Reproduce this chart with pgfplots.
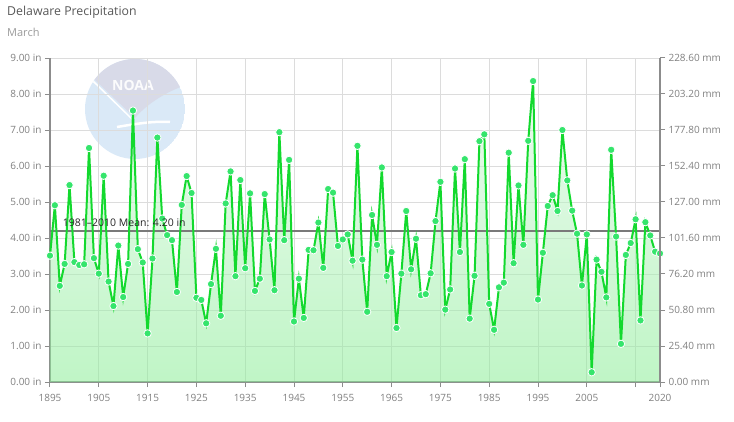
\documentclass[border=0pt]{standalone}
\usepackage{pgfplots}
\pgfplotsset{compat=1.18}
\usepackage{fontspec}
\setmainfont{Open Sans}
\definecolor{lbl}{HTML}{808080}
\definecolor{axisgray}{HTML}{8C8C8C}
\definecolor{gridgray}{HTML}{DCDCDC}
\definecolor{linegreen}{HTML}{13D92E}
\definecolor{markgreen}{HTML}{35E56C}
\definecolor{filltop}{HTML}{DCF8E2}
\definecolor{fillbot}{HTML}{8BED97}
\definecolor{meangray}{HTML}{7A7A7A}
\definecolor{logoblue}{HTML}{DAE9F7}
\definecolor{logogray}{HTML}{D8DAE8}
\definecolor{titlegray}{HTML}{585858}
\definecolor{subgray}{HTML}{9A9A9A}
\pgfplotstableread{
year val
1895 3.51
1896 4.91
1897 2.67
1898 3.28
1899 5.47
1900 3.33
1901 3.25
1902 3.27
1903 6.50
1904 3.44
1905 3.01
1906 5.73
1907 2.79
1908 2.11
1909 3.79
1910 2.36
1911 3.28
1912 7.54
1913 3.69
1914 3.32
1915 1.35
1916 3.43
1917 6.79
1918 4.54
1919 4.08
1920 3.94
1921 2.50
1922 4.92
1923 5.72
1924 5.25
1925 2.34
1926 2.28
1927 1.63
1928 2.72
1929 3.70
1930 1.84
1931 4.96
1932 5.85
1933 2.94
1934 5.61
1935 3.16
1936 5.24
1937 2.53
1938 2.87
1939 5.22
1940 3.96
1941 2.55
1942 6.94
1943 3.94
1944 6.17
1945 1.68
1946 2.87
1947 1.78
1948 3.67
1949 3.66
1950 4.43
1951 3.17
1952 5.36
1953 5.26
1954 3.78
1955 3.96
1956 4.10
1957 3.37
1958 6.56
1959 3.40
1960 1.95
1961 4.64
1962 3.81
1963 5.96
1964 2.94
1965 3.61
1966 1.50
1967 3.01
1968 4.75
1969 3.13
1970 3.98
1971 2.41
1972 2.44
1973 3.02
1974 4.47
1975 5.56
1976 2.01
1977 2.57
1978 5.93
1979 3.61
1980 6.19
1981 1.76
1982 2.95
1983 6.69
1984 6.88
1985 2.17
1986 1.45
1987 2.63
1988 2.76
1989 6.37
1990 3.30
1991 5.46
1992 3.81
1993 6.70
1994 8.36
1995 2.29
1996 3.59
1997 4.89
1998 5.19
1999 4.75
2000 7.00
2001 5.60
2002 4.76
2003 4.12
2004 2.68
2005 4.10
2006 0.27
2007 3.40
2008 3.06
2009 2.35
2010 6.45
2011 4.04
2012 1.06
2013 3.53
2014 3.86
2015 4.52
2016 1.71
2017 4.44
2018 4.07
2019 3.62
2020 3.57
}\precip
\begin{document}
\begin{tikzpicture}[x=1pt,y=1pt]
\useasboundingbox (0,0) rectangle (734,421);
% NOAA watermark
\begin{scope}
\clip (135,312) circle (50);
\fill[logoblue] (135,312) circle (50);
\fill[logogray] (80,363) -- (190,363) -- (190,336) -- (183,335) .. controls (165,328) and (148,318) .. (135,303) -- (95,341) -- (80,341) -- cycle;
\draw[white, line width=1.5pt] (80,339) -- (94,339) -- (133,301);
\draw[white, line width=2.5pt] (117,294) .. controls (135,297) and (152,300) .. (170,299);
\end{scope}
\node[text=white, font=\bfseries\fontsize{14}{14}\selectfont, opacity=0.9] at (133,336) {NOAA};
% titles
\node[anchor=west, inner sep=0pt, text=titlegray, font=\fontsize{12.3}{14}\selectfont] at (7,409) {Delaware Precipitation};
\node[anchor=west, inner sep=0pt, text=subgray, font=\fontsize{11}{13}\selectfont] at (7,389) {March};
\begin{axis}[
  at={(50pt,39pt)}, anchor=south west, scale only axis,
  width=610pt, height=324pt,
  xmin=1895, xmax=2020, ymin=0, ymax=9,
  axis x line=bottom, axis y line=left,
  axis line style={-, draw=axisgray, line width=1.3pt},
  xtick={1895,1905,1915,1925,1935,1945,1955,1965,1975,1985,1995,2005,2015,2020},
  xticklabels={1895,1905,1915,1925,1935,1945,1955,1965,1975,1985,1995,2005,,2020},
  ytick={0,1,2,3,4,5,6,7,8,9},
  yticklabels={0.00 in,1.00 in,2.00 in,3.00 in,4.00 in,5.00 in,6.00 in,7.00 in,8.00 in,9.00 in},
  tick align=outside, major tick length=5pt,
  tick style={draw=axisgray, line width=1pt},
  grid=major, major grid style={draw=gridgray, line width=0.9pt},
  ticklabel style={font=\fontsize{10}{12}\selectfont, text=lbl},
  xticklabel style={yshift=-4pt},
  clip=false,
]
\addplot[draw=none, fill opacity=0.55, top color=filltop, bottom color=fillbot] table[x=year,y=val] {\precip} \closedcycle;
\addplot[draw=meangray, line width=1.8pt] coordinates {(1895,4.2) (2020,4.2)};
\addplot[draw=linegreen, line width=2pt, mark=*, mark size=3.7pt, mark options={fill=markgreen, draw=white, line width=0.8pt}] table[x=year,y=val] {\precip};
\end{axis}
\begin{axis}[
  at={(50pt,39pt)}, anchor=south west, scale only axis,
  width=610pt, height=324pt,
  xmin=1895, xmax=2020, ymin=0, ymax=228.6,
  hide x axis, axis y line*=right,
  axis line style={-, draw=axisgray, line width=1.3pt},
  ytick={0,25.4,50.8,76.2,101.6,127,152.4,177.8,203.2,228.6},
  yticklabels={0.00 mm,25.40 mm,50.80 mm,76.20 mm,101.60 mm,127.00 mm,152.40 mm,177.80 mm,203.20 mm,228.60 mm},
  tick align=outside, major tick length=5pt,
  tick style={draw=axisgray, line width=1pt},
  ticklabel style={font=\fontsize{10}{12}\selectfont, text=lbl},
  clip=false,
]
\addplot[draw=none] coordinates {(1895,0)};
\node[anchor=base west, inner sep=0pt, text=black!85, font=\fontsize{10.5}{12}\selectfont] at (axis cs:1897.6,109.5) {1981–2010 Mean: 4.20 in};
\end{axis}
\end{tikzpicture}
\end{document}
